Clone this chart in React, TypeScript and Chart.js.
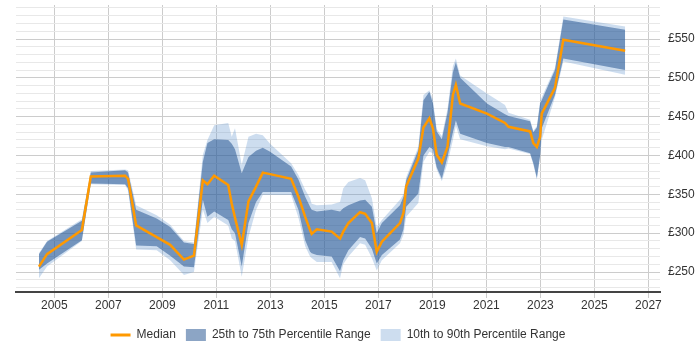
import React, { useEffect, useRef } from "react";
import { Chart, registerables } from "chart.js";

Chart.register(...registerables);

// Decimal years of each sampled point
const dates = [
  2004.43, 2004.73, 2006.02, 2006.35, 2007.62, 2007.73, 2008.03, 2008.79, 2009.29, 2009.8,
  2010.17, 2010.5, 2010.67, 2010.92, 2011.44, 2011.57, 2011.69, 2011.94, 2012.19, 2012.47,
  2012.72, 2012.99, 2013.77, 2014.04, 2014.29, 2014.47, 2014.53, 2014.72, 2015.27, 2015.58,
  2015.7, 2015.89, 2016.32, 2016.51, 2016.76, 2016.94, 2017.13, 2017.8, 2017.93, 2018.03,
  2018.48, 2018.67, 2018.89, 2019.02, 2019.16, 2019.35, 2019.56, 2019.76, 2019.87, 2020.03,
  2021.02, 2021.69, 2021.82, 2022.62, 2022.74, 2022.87, 2022.99, 2023.05, 2023.54, 2023.85,
  2026.14,
];

const p10 = [
  242, 257, 290, 363, 362, 355, 279, 278, 265, 246,
  250, 330, 313, 321, 310, 293, 290, 244, 295, 330,
  349, 349, 349, 320, 283, 270, 268, 263, 263, 242,
  260, 270, 287, 285, 268, 252, 265, 287, 298, 321,
  339, 392, 405, 403, 382, 367, 390, 420, 438, 421,
  412, 408, 409, 402, 388, 369, 398, 420, 475, 521,
  504,
];

const p25 = [
  253, 261, 291, 364, 363, 358, 284, 283, 271, 257,
  256, 343, 321, 328, 317, 305, 300, 257, 313, 340,
  353, 353, 353, 330, 291, 276, 274, 272, 270, 251,
  265, 278, 295, 293, 280, 261, 272, 292, 305, 334,
  351, 400, 411, 408, 385, 370, 398, 430, 445, 428,
  416, 411, 411, 403, 390, 371, 400, 435, 478, 525,
  510,
];

const median = [
  257, 273, 304, 373, 374, 370, 310, 295, 285, 266,
  271, 368, 363, 374, 362, 338, 320, 285, 341, 360,
  378, 376, 370, 347, 321, 304, 299, 305, 302, 293,
  302, 313, 327, 325, 313, 276, 289, 313, 326, 360,
  396, 436, 448, 435, 401, 391, 411, 478, 491, 467,
  454, 442, 437, 431, 416, 411, 424, 454, 487, 549,
  535,
];

const p75 = [
  273, 289, 316, 378, 381, 378, 330, 319, 308, 288,
  286, 392, 416, 421, 420, 415, 408, 377, 398, 406,
  410, 405, 386, 369, 347, 334, 330, 328, 330, 328,
  332, 336, 342, 343, 334, 300, 313, 336, 347, 368,
  407, 471, 482, 467, 431, 421, 455, 507, 520, 500,
  467, 453, 451, 444, 430, 436, 467, 471, 510, 575,
  562,
];

const p90 = [
  274, 290, 318, 380, 382, 381, 336, 323, 311, 290,
  288, 401, 420, 439, 442, 424, 435, 388, 424, 428,
  426, 415, 390, 375, 356, 345, 338, 336, 337, 340,
  358, 366, 371, 368, 345, 308, 317, 343, 350, 372,
  411, 478, 484, 472, 434, 425, 460, 515, 525, 503,
  480, 465, 455, 446, 432, 438, 470, 475, 513, 579,
  566,
];

const xTickYears = [2005, 2007, 2009, 2011, 2013, 2015, 2017, 2019, 2021, 2023, 2025, 2027];
const yGridValues = [
  230, 240, 250, 260, 270, 280, 290, 300, 310, 320, 330, 340, 350, 360, 370, 380, 390,
  400, 410, 420, 430, 440, 450, 460, 470, 480, 490, 500, 510, 520, 530, 540, 550, 560,
  570, 580, 590,
];
const seriesNames = ["Median", "25th to 75th Percentile Range", "10th to 90th Percentile Range"];

const ORANGE = "#ff9900";
const DARK = "rgba(25,75,140,0.5)";
const LIGHT = "rgba(100,150,205,0.32)";
const NONE = "rgba(0,0,0,0)";

const toPoints = (vals: number[]) => dates.map((d, i) => ({ x: d, y: vals[i] }));

export default function App() {
  const ref = useRef<HTMLCanvasElement>(null);

  useEffect(() => {
    const canvas = ref.current;
    if (!canvas) return;
    Chart.defaults.font.family = "'Liberation Sans', Arial, sans-serif";
    Chart.defaults.font.size = 12;
    Chart.defaults.color = "#333";

    const legendPlace = {
      id: "legendPlace",
      afterLayout(chart: any) {
        const lg = chart.legend;
        if (lg && chart.chartArea) {
          lg.left = chart.chartArea.left;
          lg.right = chart.chartArea.right;
          lg.top += 5;
          lg.bottom += 5;
        }
      },
    };

    const chart = new Chart(canvas, {
      type: "line",
      data: {
        datasets: [
          {
            label: seriesNames[0],
            data: toPoints(median),
            borderColor: ORANGE,
            backgroundColor: ORANGE,
            borderWidth: 2.5,
            pointRadius: 0,
            fill: false,
            tension: 0,
          },
          {
            label: seriesNames[1],
            data: toPoints(p75),
            borderColor: NONE,
            borderWidth: 0,
            backgroundColor: DARK,
            pointRadius: 0,
            fill: "+1",
            tension: 0,
          },
          {
            label: "25th",
            data: toPoints(p25),
            borderColor: NONE,
            borderWidth: 0,
            pointRadius: 0,
            fill: false,
            tension: 0,
          },
          {
            label: seriesNames[2],
            data: toPoints(p90),
            borderColor: NONE,
            borderWidth: 0,
            backgroundColor: LIGHT,
            pointRadius: 0,
            fill: "+1",
            tension: 0,
          },
          {
            label: "10th",
            data: toPoints(p10),
            borderColor: NONE,
            borderWidth: 0,
            pointRadius: 0,
            fill: false,
            tension: 0,
          },
        ],
      },
      options: {
        responsive: false,
        animation: false,
        layout: { padding: { left: 16, right: 0, top: 5, bottom: 4 } },
        scales: {
          x: {
            type: "linear",
            min: 2003.58,
            max: 2027.43,
            afterBuildTicks: (s: any) => {
              s.ticks = xTickYears.map((v) => ({ value: v }));
            },
            afterFit: (s: any) => {
              s.height = 22;
            },
            ticks: {
              autoSkip: false,
              maxRotation: 0,
              padding: 0,
              color: "#333",
              callback: (v: any) => String(v),
            },
            grid: { color: "#cccccc", tickLength: 6, drawTicks: true },
            border: { display: true, color: "#444", width: 2 },
          },
          y: {
            position: "right",
            min: 224.25,
            max: 593.8,
            afterBuildTicks: (s: any) => {
              s.ticks = yGridValues.map((v) => ({ value: v }));
            },
            afterFit: (s: any) => {
              s.width = 40;
              s.paddingTop = 0;
              s.paddingBottom = 0;
            },
            ticks: {
              autoSkip: false,
              padding: 8,
              color: "#333",
              callback: (v: any) => (Number(v) % 50 === 0 ? "£" + v : ""),
            },
            grid: {
              drawTicks: false,
              color: (c: any) =>
                c.tick && Number(c.tick.value) % 50 === 0 ? "#cccccc" : "#e8e8e8",
            },
            border: { display: false },
          },
        },
        plugins: {
          legend: {
            position: "bottom",
            labels: {
              usePointStyle: true,
              pointStyleWidth: 20,
              boxHeight: 12,
              padding: 10,
              color: "#333",
              generateLabels: () => [
                {
                  text: seriesNames[0],
                  pointStyle: "line",
                  strokeStyle: ORANGE,
                  fillStyle: ORANGE,
                  lineWidth: 3,
                  datasetIndex: 0,
                  hidden: false,
                  fontColor: "#333",
                } as any,
                {
                  text: seriesNames[1],
                  pointStyle: "rect",
                  strokeStyle: DARK,
                  fillStyle: DARK,
                  lineWidth: 0,
                  datasetIndex: 1,
                  hidden: false,
                  fontColor: "#333",
                } as any,
                {
                  text: seriesNames[2],
                  pointStyle: "rect",
                  strokeStyle: LIGHT,
                  fillStyle: LIGHT,
                  lineWidth: 0,
                  datasetIndex: 3,
                  hidden: false,
                  fontColor: "#333",
                } as any,
              ],
            },
          },
          tooltip: { enabled: false },
        },
      } as any,
      plugins: [legendPlace],
    });

    return () => chart.destroy();
  }, []);

  return (
    <div style={{ position: "absolute", left: 0, top: 0, width: 700, height: 350 }}>
      <canvas ref={ref} width={700} height={350} style={{ display: "block", width: 700, height: 350 }} />
    </div>
  );
}
